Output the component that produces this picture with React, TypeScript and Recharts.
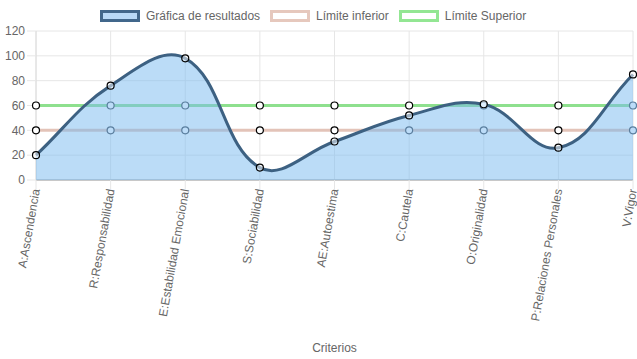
import React from 'react';
import { ComposedChart, Area, Line, XAxis, YAxis, CartesianGrid } from 'recharts';

const categories = [
  'A:Ascendencia',
  'R:Responsabilidad',
  'E:Estabilidad Emocional',
  'S:Sociabilidad',
  'AE:Autoestima',
  'C:Cautela',
  'O:Originalidad',
  'P:Relaciones Personales',
  'V:Vigor',
];
const resultados = [20, 76, 98, 10, 31, 52, 61, 26, 85];
const limiteInferior = [40, 40, 40, 40, 40, 40, 40, 40, 40];
const limiteSuperior = [60, 60, 60, 60, 60, 60, 60, 60, 60];
const yTicks = [0, 20, 40, 60, 80, 100, 120];

const data = categories.map((name, i) => ({
  name,
  resultados: resultados[i],
  inferior: limiteInferior[i],
  superior: limiteSuperior[i],
}));

const W = 637;
const H = 359;
const MARGIN = { top: 31, right: 4, bottom: 0, left: 0 };
const Y_AXIS_W = 36;
const X_AXIS_H = 179;
const FONT = '"Liberation Sans", Arial, Helvetica, sans-serif';

// chart.js style spline (tension 0.4, control points capped to the plot area)
const chartJsCurve = (t: number, box: { left: number; right: number; top: number; bottom: number }) =>
  (context: any) => {
    let pts: { x: number; y: number }[] = [];
    let line = NaN;
    const capX = (v: number) => Math.max(box.left, Math.min(box.right, v));
    const capY = (v: number) => Math.max(box.top, Math.min(box.bottom, v));
    return {
      areaStart() { line = 0; },
      areaEnd() { line = NaN; },
      lineStart() { pts = []; },
      point(x: number, y: number) { pts.push({ x: +x, y: +y }); },
      lineEnd() {
        const n = pts.length;
        if (n) {
          if (line) context.lineTo(pts[0].x, pts[0].y);
          else context.moveTo(pts[0].x, pts[0].y);
          const cps = pts.map((cur, i) => {
            const prev = pts[Math.max(0, i - 1)];
            const next = pts[Math.min(n - 1, i + 1)];
            const d01 = Math.hypot(cur.x - prev.x, cur.y - prev.y);
            const d12 = Math.hypot(next.x - cur.x, next.y - cur.y);
            let s01 = d01 / (d01 + d12);
            let s12 = d12 / (d01 + d12);
            if (isNaN(s01)) s01 = 0;
            if (isNaN(s12)) s12 = 0;
            const fa = t * s01;
            const fb = t * s12;
            return {
              px: capX(cur.x - fa * (next.x - prev.x)),
              py: capY(cur.y - fa * (next.y - prev.y)),
              nx: capX(cur.x + fb * (next.x - prev.x)),
              ny: capY(cur.y + fb * (next.y - prev.y)),
            };
          });
          for (let i = 1; i < n; i++) {
            context.bezierCurveTo(cps[i - 1].nx, cps[i - 1].ny, cps[i].px, cps[i].py, pts[i].x, pts[i].y);
          }
        }
        if (line || (line !== 0 && n === 1)) context.closePath();
        line = 1 - line;
      },
    };
  };

const plotBox = {
  left: MARGIN.left + Y_AXIS_W,
  right: W - MARGIN.right,
  top: MARGIN.top,
  bottom: H - MARGIN.bottom - X_AXIS_H,
};
const curve = chartJsCurve(0.4, plotBox);

const XTick = (props: any) => {
  const { x, y, payload } = props;
  return (
    <text
      x={x}
      y={y}
      transform={`rotate(-80 ${x} ${y})`}
      textAnchor="end"
      dominantBaseline="central"
      fill="#666"
      fontSize={12}
      fontFamily={FONT}
    >
      {payload.value}
    </text>
  );
};

const legendItems = [
  { label: 'Gráfica de resultados', fill: '#b8d9f7', stroke: '#41678b' },
  { label: 'Límite inferior', fill: '#fff', stroke: '#e6c8bd' },
  { label: 'Límite Superior', fill: '#fff', stroke: '#93e693' },
];

const dot = { r: 3.5, fill: '#fff', stroke: '#000', strokeWidth: 1.2 };

// limit points sitting under the results area look tinted by its fill
const limitDot = (props: any) => {
  const { cx, cy, index, value } = props;
  if (cx == null || cy == null) return <g key={index} />;
  const v = Array.isArray(value) ? value[1] : value;
  const covered = v < resultados[index];
  return (
    <circle
      key={index}
      cx={cx}
      cy={cy}
      r={3.5}
      fill={covered ? '#bcdcf8' : '#fff'}
      stroke={covered ? '#5a7e9e' : '#000'}
      strokeWidth={1.2}
    />
  );
};

export default function App() {
  return (
    <div style={{ position: 'absolute', left: 0, top: 0, width: W, height: H, background: '#fff', fontFamily: FONT }}>
      <div style={{ position: 'absolute', left: 100, top: 10, display: 'flex', alignItems: 'center', gap: 10 }}>
        {legendItems.map((it) => (
          <div key={it.label} style={{ display: 'flex', alignItems: 'center' }}>
            <span
              style={{
                display: 'inline-block',
                width: 40,
                height: 12,
                boxSizing: 'border-box',
                background: it.fill,
                border: `3px solid ${it.stroke}`,
              }}
            />
            <span style={{ marginLeft: 6, fontSize: 12, color: '#666', lineHeight: '12px' }}>{it.label}</span>
          </div>
        ))}
      </div>
      <ComposedChart width={W} height={H} data={data} margin={MARGIN}>
        <CartesianGrid stroke="#e6e6e6" vertical horizontal />
        <XAxis
          dataKey="name"
          scale="point"
          padding={{ left: 0, right: 0 }}
          interval={0}
          height={X_AXIS_H}
          tickSize={9}
          tickMargin={0}
          tickLine={{ stroke: '#e6e6e6' }}
          axisLine={{ stroke: '#c8c8c8', strokeWidth: 2 }}
          tick={<XTick />}
          label={{ value: 'Criterios', position: 'insideBottom', offset: 7, fill: '#666', fontSize: 12, fontFamily: FONT }}
        />
        <YAxis
          width={Y_AXIS_W}
          domain={[0, 120]}
          ticks={yTicks}
          interval={0}
          tickSize={9}
          tickMargin={2}
          tickLine={{ stroke: '#e6e6e6' }}
          axisLine={{ stroke: '#dcdcdc' }}
          tick={{ fill: '#666', fontSize: 12, fontFamily: FONT }}
        />
        <Line
          dataKey="inferior"
          type="linear"
          stroke="#e3c3b8"
          strokeWidth={3}
          dot={limitDot}
          activeDot={false}
          isAnimationActive={false}
        />
        <Line
          dataKey="superior"
          type="linear"
          stroke="#8ee08e"
          strokeWidth={3}
          dot={limitDot}
          activeDot={false}
          isAnimationActive={false}
        />
        <Area
          dataKey="resultados"
          type={curve as any}
          stroke="#3d6182"
          strokeWidth={3}
          fill="rgb(120,185,240)"
          fillOpacity={0.5}
          dot={dot}
          activeDot={false}
          isAnimationActive={false}
          {...({ zIndex: 500 } as any)}
        />
      </ComposedChart>
    </div>
  );
}
